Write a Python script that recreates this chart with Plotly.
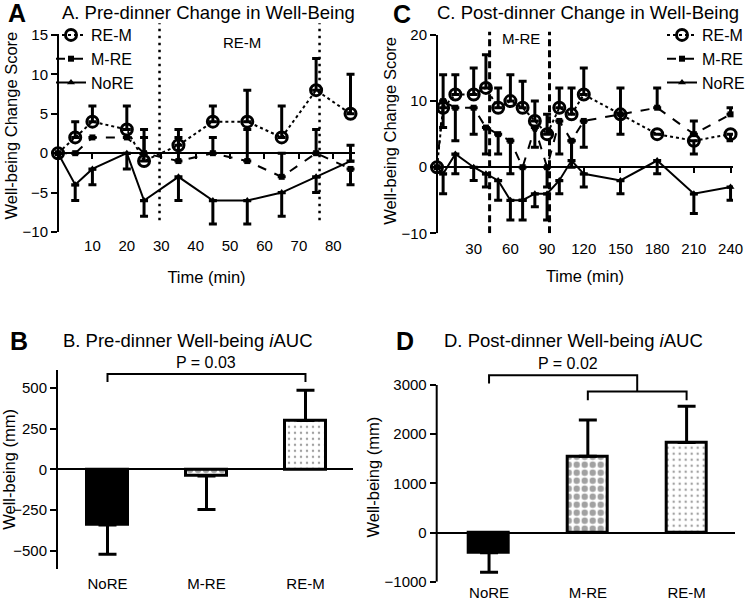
import plotly.graph_objects as go

W, H = 750, 602
FONT = "Liberation Sans, Arial, sans-serif"

# A. pre-dinner change in well-being (change score vs time)
time_a = [0, 5, 10, 20, 25, 35, 45, 55, 65, 75, 85]
rem_a = [0, 2, 4, 3, -1, 1, 4, 4, 2, 8, 5]
rem_a_up = [0, 2, 2, 3, 4, 2, 2, 4, 4, 4, 5]
mre_a = [0, 0, 2, 2, 0, -1, 0, -1, -3, 0, -2]
mre_a_up = [0, 0, 0, 0, 2, 3, 2, 4, 3, 3, 0]
mre_a_dn = [0, 0, 0, 0, 0, 0, 0, 0, 0, 0, 2]
nore_a = [0, -4, -2, 0, -6, -3, -6, -6, -5, -3, -1]
nore_a_up = [0, 0, 0, 0, 0, 0, 0, 0, 0, 0, 2]
nore_a_dn = [0, 2, 2, 2, 2, 3, 3, 3, 3, 2, 0]
exercise_a = [29.5, 76]

# C. post-dinner change in well-being
time_c = [0, 5, 15, 30, 40, 50, 60, 70, 80, 90, 100, 110, 120, 150, 180, 210, 240]
rem_c = [0, 9, 11, 11, 12, 9, 10, 9, 7, 5, 9, 8, 11, 8, 5, 4, 5]
rem_c_up = [0, 5, 3, 4, 5, 3, 4, 4, 3, 3, 3, 4, 4, 4, 0, 0, 0]
rem_c_dn = [0, 0, 0, 0, 0, 0, 0, 0, 0, 0, 0, 0, 0, 0, 0, 2, 1]
mre_c = [0, 10, 9, 9, 6, 5, 4, 0, 6, 0, 7, 4, 7, 8, 9, 5, 8]
mre_c_up = [0, 0, 0, 0, 0, 0, 0, 0, 0, 0, 0, 0, 0, 0, 3, 2, 1]
mre_c_dn = [0, 4, 5, 4, 4, 3, 5, 5, 3, 3, 5, 4, 4, 3, 0, 0, 0]
nore_c = [0, -1, 2, 0, -1, -2, -5, -5, -4, -4, -2, 1, -1, -2, 1, -4, -3]
nore_c_up = [0, 0, 0, 0, 0, 0, 0, 0, 0, 0, 0, 3, 0, 0, 0, 0, 0]
nore_c_dn = [0, 3, 3, 2, 2, 3, 3, 3, 2, 4, 2, 0, 2, 2, 2, 3, 2]
exercise_c = [43, 92]

# B / D. iAUC bars
groups = ["NoRE", "M-RE", "RE-M"]
auc_pre = [-340, -40, 300]
auc_pre_up = [0, 0, 185]
auc_pre_dn = [180, 205, 0]
auc_post = [-410, 1550, 1830]
auc_post_up = [0, 740, 740]
auc_post_dn = [400, 0, 0]


def xdom(p0, p1):
    return [p0 / W, p1 / W]


def ydom(top, bottom):
    return [1 - bottom / H, 1 - top / H]


def zero_pos(dom, rng):
    return dom[0] + (0 - rng[0]) / (rng[1] - rng[0]) * (dom[1] - dom[0])


tfont = dict(family=FONT, size=15, color="black")
ttl_font = dict(family=FONT, size=16.5, color="black")

# panel geometry (pixels)
A_x, A_y, A_rx, A_ry = xdom(58, 355), ydom(19.2, 232), [0, 86.3], [-10, 17]
C_x, C_y, C_rx, C_ry = xdom(437, 733), ydom(28.4, 233.3), [0, 242], [-10, 21]
B_x, B_y, B_rx, B_ry = xdom(58, 353), ydom(369.8, 569), [-0.5, 2.48], [-610, 610]
D_x, D_y, D_rx, D_ry = xdom(436.7, 735), ydom(372.7, 581.7), [-0.53, 2.49], [-1000, 3250]

fig = go.Figure()

series = [
    ("RE-M", "dot", "circle-open", 11, 3),
    ("M-RE", "dash", "square", 6, 0),
    ("NoRE", "solid", "triangle-up", 7, 0),
]


def add_lines(xs, ys_list, ax, ay, leg):
    for (name, dash, sym, size, lw), (ys, up, dn) in zip(series, ys_list):
        fig.add_trace(go.Scatter(
            x=xs, y=ys, name=name, mode="lines+markers", xaxis=ax, yaxis=ay,
            legend=leg, cliponaxis=False,
            line=dict(color="black", width=2, dash=dash),
            marker=dict(symbol=sym, size=size, color="black",
                        line=dict(color="black", width=lw)),
            error_y=dict(type="data", symmetric=False, array=up, arrayminus=dn,
                         color="black", thickness=3, width=4),
        ))


add_lines(time_a, [(rem_a, rem_a_up, [0] * len(rem_a)), (mre_a, mre_a_up, mre_a_dn),
                   (nore_a, nore_a_up, nore_a_dn)], "x", "y", "legend")
add_lines(time_c, [(rem_c, rem_c_up, rem_c_dn), (mre_c, mre_c_up, mre_c_dn),
                   (nore_c, nore_c_up, nore_c_dn)], "x3", "y3", "legend2")

# NoRE solid, M-RE checker-like, RE-M sparse dots
pat_shape = ["", ".", "."]
pat_size = [8, 8, 6]
pat_solid = [0.3, 0.5, 0.13]
fills = ["black", "white", "white"]


def add_bars(vals, up, dn, ax, ay, width):
    fig.add_trace(go.Bar(
        x=list(range(len(groups))), y=vals, xaxis=ax, yaxis=ay, width=width,
        showlegend=False,
        marker=dict(color=fills,
                    pattern=dict(shape=pat_shape, fgcolor="black", bgcolor="white",
                                 size=pat_size, solidity=pat_solid),
                    line=dict(color="black", width=3)),
        error_y=dict(type="data", symmetric=False, array=up, arrayminus=dn,
                     color="black", thickness=3, width=9),
    ))


add_bars(auc_pre, auc_pre_up, auc_pre_dn, "x2", "y2", 0.42)
add_bars(auc_post, auc_post_up, auc_post_dn, "x4", "y4", 0.405)


def xaxis_cfg(dom, rng, ydm, yrng, ticks, labels, ticklen, standoff, title, tstand):
    return dict(domain=dom, range=rng, anchor="free", automargin=False,
                position=zero_pos(ydm, yrng), showline=True, linewidth=2, linecolor="black",
                tickvals=ticks, ticktext=labels, ticks="outside" if ticklen else "",
                ticklen=ticklen, tickwidth=2, tickcolor="black", tickfont=tfont,
                ticklabelstandoff=standoff, showgrid=False, zeroline=False,
                title=dict(text=title, font=ttl_font, standoff=tstand))


def yaxis_cfg(dom, rng, anchor, ticks, title, tstand, line=False):
    return dict(domain=dom, range=rng, anchor=anchor, automargin=False,
                tickvals=ticks, ticks="outside",
                ticklen=6, tickwidth=2, tickcolor="black", tickfont=tfont,
                showline=line, linewidth=2, linecolor="black",
                showgrid=False, zeroline=False,
                title=dict(text=title, font=ttl_font, standoff=tstand))


fig.update_layout(
    xaxis=xaxis_cfg(A_x, A_rx, A_y, A_ry, list(range(10, 90, 10)), None, 5, 74, "Time (min)", 17),
    yaxis=yaxis_cfg(A_y, A_ry, "x", [-10, -5, 0, 5, 10, 15], "Well-being Change Score", 0),
    xaxis3=xaxis_cfg(C_x, C_rx, C_y, C_ry, list(range(30, 250, 30)), None, 5, 63, "Time (min)", 13),
    yaxis3=yaxis_cfg(C_y, C_ry, "x3", [-10, 0, 10, 20], "Well-being Change Score", 0),
    xaxis2=xaxis_cfg(B_x, B_rx, B_y, B_ry, [0, 1, 2], groups, 0, 101, "", 0),
    yaxis2=yaxis_cfg(B_y, B_ry, "x2", [-500, -250, 0, 250, 500], "Well-being (mm)", 5, line=True),
    xaxis4=xaxis_cfg(D_x, D_rx, D_y, D_ry, [0, 1, 2], groups, 0, 46, "", 0),
    yaxis4=yaxis_cfg(D_y, D_ry, "x4", [-1000, 0, 1000, 2000, 3000], "Well-being (mm)", 0),
)

shapes = []
# y-axis lines stop at the top tick
for xr, yr, lo, hi in [("x domain", "y", -10, 15), ("x3 domain", "y3", -10, 20),
                       ("x4 domain", "y4", -1000, 3000)]:
    shapes.append(dict(type="line", xref=xr, yref=yr, x0=0, x1=0, y0=lo, y1=hi,
                       line=dict(color="black", width=2)))
for t in exercise_a:
    shapes.append(dict(type="line", xref="x", yref="y", x0=t, x1=t, y0=-8.5, y1=16.5,
                       line=dict(color="black", width=2.5, dash="2.5px,4.5px")))
for t in exercise_c:
    shapes.append(dict(type="line", xref="x3", yref="y3", x0=t, x1=t, y0=-10, y1=20.5,
                       line=dict(color="black", width=3, dash="7px,4px")))


def bracket(xr, yr, x0, x1, y, leg0, leg1):
    return dict(type="path", xref=xr, yref=yr,
                path=f"M{x0},{leg0} L{x0},{y} L{x1},{y} L{x1},{leg1}",
                line=dict(color="black", width=2))


shapes.append(bracket("x2", "y2", 0, 2, 585, 535, 535))
shapes.append(bracket("x4", "y4", 0, 1.5, 3200, 3030, 2870))
shapes.append(bracket("x4", "y4", 1, 2, 2870, 2690, 2690))

ann = []
big = dict(family=FONT, size=25, color="black")
head = dict(family=FONT, size=18.5, color="black")
for letter, px, py in [("A", 17, 13), ("C", 402, 14), ("B", 19, 341), ("D", 405, 341)]:
    ann.append(dict(text=f"<b>{letter}</b>", x=px / W, y=1 - py / H, xref="paper", yref="paper",
                    showarrow=False, font=big, xanchor="center", yanchor="middle"))
for txt, px, py in [("A. Pre-dinner Change in Well-Being", 208.5, 12),
                    ("C. Post-dinner Change in Well-Being", 588, 12),
                    ("B. Pre-dinner Well-being <i>i</i>AUC", 187.5, 340),
                    ("D. Post-dinner Well-being <i>i</i>AUC", 573, 340)]:
    ann.append(dict(text=txt, x=px / W, y=1 - py / H, xref="paper", yref="paper",
                    showarrow=False, font=head, xanchor="center", yanchor="middle"))
ann.append(dict(text="RE-M", x=53.5, y=14, xref="x", yref="y", showarrow=False, font=tfont))
ann.append(dict(text="M-RE", x=69, y=19.4, xref="x3", yref="y3", showarrow=False, font=tfont))
pfont = dict(family=FONT, size=16, color="black")
ann.append(dict(text="P = 0.03", x=1, y=585, xref="x2", yref="y2", showarrow=False,
                font=pfont, yanchor="bottom", yshift=1))
ann.append(dict(text="P = 0.02", x=0.8, y=3200, xref="x4", yref="y4", showarrow=False,
                font=pfont, yanchor="bottom", yshift=1))

legfont = dict(family=FONT, size=16, color="black")
fig.update_layout(
    width=W, height=H, margin=dict(l=0, r=0, t=0, b=0, autoexpand=False),
    paper_bgcolor="white", plot_bgcolor="white",
    bargap=0, shapes=shapes, annotations=ann,
    legend=dict(x=51 / W, y=1 - 18 / H, xanchor="left", yanchor="top", font=legfont,
                bgcolor="rgba(0,0,0,0)", itemwidth=30, tracegroupgap=0),
    legend2=dict(x=1, y=1 - 18 / H, xanchor="right", yanchor="top", font=legfont,
                 bgcolor="rgba(0,0,0,0)", itemwidth=30, tracegroupgap=0),
)

# the page's default body margin would shift the whole figure by 8px
fig.write_html("out.html", config={"displayModeBar": False},
               post_script="document.body.style.margin = '0';")
